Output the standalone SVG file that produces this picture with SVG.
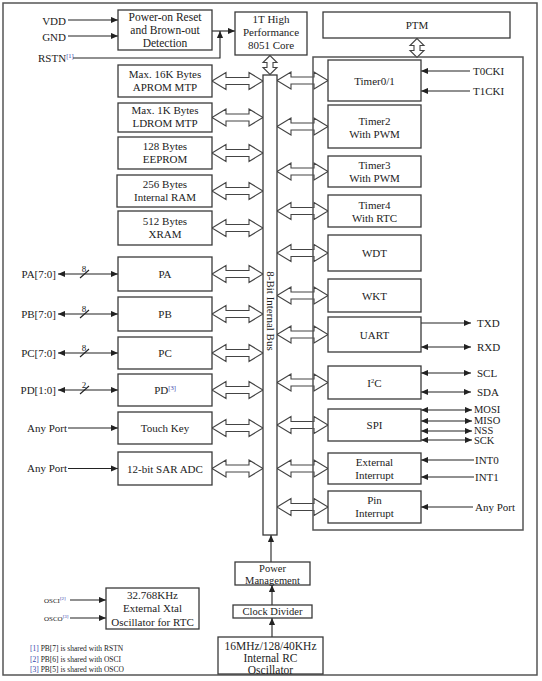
<svg xmlns="http://www.w3.org/2000/svg" width="542" height="681" viewBox="0 0 542 681">
<style>
.box{fill:#fff;stroke:#3a3a3a;stroke-width:1.3}
.frame{fill:none;stroke:#555;stroke-width:1.5}
.t{font-family:"Liberation Serif","Times New Roman",serif;font-size:11px;fill:#222;text-anchor:middle}
.s{text-anchor:start}
.e{text-anchor:end}
.sup{fill:#3344aa;font-size:6.5px}
.fn{font-size:7.5px}
.ln{stroke:#222;stroke-width:1.1;fill:none}
.dbl{fill:#fff;stroke:#444;stroke-width:1.1}
</style>
<defs>
<marker id="ah" viewBox="0 0 8 8" refX="8" refY="4" markerWidth="7" markerHeight="7" markerUnits="userSpaceOnUse" orient="auto-start-reverse"><path d="M0,0.5 L8,4 L0,7.5 Z" fill="#222"/></marker>
<path id="hdbl" class="dbl" d="M0,0 L14,-8.5 L14,-3.5 L37,-3.5 L37,-8.5 L51,0 L37,8.5 L37,3.5 L14,3.5 L14,8.5 Z"/>
<path id="vdbl" class="dbl" d="M0,0 L-7,7 L-3,7 L-3,12 L-7,12 L0,19 L7,12 L3,12 L3,7 L7,7 Z"/>
</defs>
<rect x="0" y="0" width="542" height="681" fill="#fff"/>
<rect class="frame" x="3" y="3" width="534" height="672"/>

<g id="connectors">
<!-- inputs to reset -->
<line class="ln" x1="68" y1="20" x2="118" y2="20" marker-end="url(#ah)"/>
<line class="ln" x1="68" y1="36" x2="118" y2="36" marker-end="url(#ah)"/>
<line class="ln" x1="212" y1="31" x2="235" y2="31" marker-end="url(#ah)"/>
<polyline class="ln" points="73,58 220,58 220,31" marker-end="url(#ah)"/>
<!-- left double arrows -->
<use href="#hdbl" x="212" y="81"/>
<use href="#hdbl" x="212" y="117.5"/>
<use href="#hdbl" x="212" y="153"/>
<use href="#hdbl" x="212" y="191"/>
<use href="#hdbl" x="212" y="228"/>
<use href="#hdbl" x="212" y="274"/>
<use href="#hdbl" x="212" y="314"/>
<use href="#hdbl" x="212" y="353"/>
<use href="#hdbl" x="212" y="390"/>
<use href="#hdbl" x="212" y="428"/>
<use href="#hdbl" x="212" y="468.5"/>
<!-- right double arrows -->
<use href="#hdbl" x="277" y="80.5"/>
<use href="#hdbl" x="277" y="126.5"/>
<use href="#hdbl" x="277" y="171.5"/>
<use href="#hdbl" x="277" y="211"/>
<use href="#hdbl" x="277" y="253"/>
<use href="#hdbl" x="277" y="295.5"/>
<use href="#hdbl" x="277" y="334.5"/>
<use href="#hdbl" x="277" y="382.5"/>
<use href="#hdbl" x="277" y="425"/>
<use href="#hdbl" x="277" y="468.5"/>
<use href="#hdbl" x="277" y="507"/>
<!-- vertical double arrows -->
<use href="#vdbl" x="270" y="55.5"/>
<use href="#vdbl" x="417" y="38.5"/>
<!-- port lines -->
<line class="ln" x1="58" y1="274" x2="118" y2="274" marker-start="url(#ah)" marker-end="url(#ah)"/>
<line class="ln" x1="58" y1="314" x2="118" y2="314" marker-start="url(#ah)" marker-end="url(#ah)"/>
<line class="ln" x1="58" y1="353" x2="118" y2="353" marker-start="url(#ah)" marker-end="url(#ah)"/>
<line class="ln" x1="58" y1="390" x2="118" y2="390" marker-start="url(#ah)" marker-end="url(#ah)"/>
<line class="ln" x1="80" y1="278" x2="89" y2="270"/>
<line class="ln" x1="80" y1="318" x2="89" y2="310"/>
<line class="ln" x1="80" y1="357" x2="89" y2="349"/>
<line class="ln" x1="80" y1="394" x2="89" y2="386"/>
<line class="ln" x1="68" y1="428" x2="118" y2="428" marker-end="url(#ah)"/>
<line class="ln" x1="68" y1="468.5" x2="118" y2="468.5" marker-end="url(#ah)"/>
<!-- right side signals -->
<line class="ln" x1="470" y1="71" x2="421" y2="71" marker-end="url(#ah)"/>
<line class="ln" x1="470" y1="91" x2="421" y2="91" marker-end="url(#ah)"/>
<line class="ln" x1="421" y1="323" x2="471" y2="323" marker-end="url(#ah)"/>
<line class="ln" x1="421" y1="347" x2="471" y2="347" marker-start="url(#ah)" marker-end="url(#ah)"/>
<line class="ln" x1="421" y1="373" x2="471" y2="373" marker-start="url(#ah)" marker-end="url(#ah)"/>
<line class="ln" x1="421" y1="392" x2="471" y2="392" marker-start="url(#ah)" marker-end="url(#ah)"/>
<line class="ln" x1="421" y1="410" x2="472" y2="410" marker-start="url(#ah)" marker-end="url(#ah)"/>
<line class="ln" x1="421" y1="421" x2="472" y2="421" marker-start="url(#ah)" marker-end="url(#ah)"/>
<line class="ln" x1="421" y1="431" x2="472" y2="431" marker-start="url(#ah)" marker-end="url(#ah)"/>
<line class="ln" x1="421" y1="440" x2="472" y2="440" marker-start="url(#ah)" marker-end="url(#ah)"/>
<line class="ln" x1="474" y1="460" x2="421" y2="460" marker-end="url(#ah)"/>
<line class="ln" x1="474" y1="477" x2="421" y2="477" marker-end="url(#ah)"/>
<line class="ln" x1="473" y1="507" x2="421" y2="507" marker-end="url(#ah)"/>
<!-- power chain -->
<line class="ln" x1="271" y1="562" x2="271" y2="535" marker-end="url(#ah)"/>
<line class="ln" x1="272" y1="605" x2="272" y2="585" marker-end="url(#ah)"/>
<line class="ln" x1="272" y1="637" x2="272" y2="618" marker-end="url(#ah)"/>
<line class="ln" x1="70" y1="600" x2="106" y2="600" marker-end="url(#ah)"/>
<line class="ln" x1="70" y1="618" x2="106" y2="618" marker-end="url(#ah)"/>
</g>

<rect id="periph-frame" class="frame" x="313" y="57" width="210" height="473"/>

<g id="reset"><rect class="box" x="118" y="10" width="94" height="40"/>
<text class="t" x="165" y="20.5" style="font-size:11.5px">Power-on Reset</text><text class="t" x="165" y="33.5" style="font-size:11.5px">and Brown-out</text><text class="t" x="165" y="46.5" style="font-size:11.5px">Detection</text></g>
<g id="core"><rect class="box" x="235" y="12" width="72" height="43"/>
<text class="t" x="271" y="22.5">1T High</text><text class="t" x="271" y="35.5">Performance</text><text class="t" x="271" y="48.5">8051 Core</text></g>
<g id="ptm"><rect class="box" x="323" y="12" width="187" height="26"/><text class="t" x="417" y="29">PTM</text></g>

<g id="aprom"><rect class="box" x="118" y="65" width="94" height="32"/><text class="t" x="165" y="78">Max. 16K Bytes</text><text class="t" x="165" y="91">APROM MTP</text></g>
<g id="ldrom"><rect class="box" x="118" y="103" width="94" height="29"/><text class="t" x="165" y="114">Max. 1K Bytes</text><text class="t" x="165" y="127">LDROM MTP</text></g>
<g id="eeprom"><rect class="box" x="118" y="137" width="94" height="32"/><text class="t" x="165" y="150">128 Bytes</text><text class="t" x="165" y="163">EEPROM</text></g>
<g id="iram"><rect class="box" x="117" y="175" width="95" height="32"/><text class="t" x="165" y="188">256 Bytes</text><text class="t" x="165" y="201">Internal RAM</text></g>
<g id="xram"><rect class="box" x="118" y="211" width="94" height="34"/><text class="t" x="165" y="225">512 Bytes</text><text class="t" x="165" y="238">XRAM</text></g>
<g id="pa"><rect class="box" x="118" y="257" width="94" height="34"/><text class="t" x="165" y="278">PA</text></g>
<g id="pb"><rect class="box" x="118" y="297" width="94" height="34"/><text class="t" x="165" y="318">PB</text></g>
<g id="pc"><rect class="box" x="118" y="337" width="94" height="32"/><text class="t" x="165" y="357">PC</text></g>
<g id="pd"><rect class="box" x="118" y="374" width="94" height="32"/><text class="t" x="165" y="394">PD<tspan class="sup" dy="-4">[3]</tspan></text></g>
<g id="touch"><rect class="box" x="118" y="412" width="94" height="32"/><text class="t" x="165" y="432">Touch Key</text></g>
<g id="adc"><rect class="box" x="118" y="452" width="94" height="33"/><text class="t" x="165" y="472.5">12-bit SAR ADC</text></g>

<g id="bus"><rect class="box" x="263" y="75" width="14" height="460"/>
<text class="t" transform="translate(266.5,311) rotate(90)">8-Bit Internal Bus</text></g>

<g id="timer01"><rect class="box" x="328" y="60" width="93" height="41"/><text class="t" x="374.5" y="84.5">Timer0/1</text></g>
<g id="timer2"><rect class="box" x="328" y="105" width="93" height="43"/><text class="t" x="374.5" y="124.5">Timer2</text><text class="t" x="374.5" y="137.5">With PWM</text></g>
<g id="timer3"><rect class="box" x="328" y="156" width="93" height="31"/><text class="t" x="374.5" y="169">Timer3</text><text class="t" x="374.5" y="182">With PWM</text></g>
<g id="timer4"><rect class="box" x="328" y="195" width="93" height="32"/><text class="t" x="374.5" y="208.5">Timer4</text><text class="t" x="374.5" y="221.5">With RTC</text></g>
<g id="wdt"><rect class="box" x="328" y="235" width="93" height="36"/><text class="t" x="374.5" y="257">WDT</text></g>
<g id="wkt"><rect class="box" x="328" y="279" width="93" height="33"/><text class="t" x="374.5" y="299.5">WKT</text></g>
<g id="uart"><rect class="box" x="328" y="317" width="93" height="35"/><text class="t" x="374.5" y="338.5">UART</text></g>
<g id="i2c"><rect class="box" x="328" y="366" width="93" height="33"/><text class="t" x="374.5" y="387">I<tspan style="font-size:6.5px" dy="-4">2</tspan><tspan dy="4">C</tspan></text></g>
<g id="spi"><rect class="box" x="328" y="409" width="93" height="32"/><text class="t" x="374.5" y="429">SPI</text></g>
<g id="extint"><rect class="box" x="328" y="453" width="93" height="31"/><text class="t" x="374.5" y="465.5">External</text><text class="t" x="374.5" y="478.5">Interrupt</text></g>
<g id="pinint"><rect class="box" x="328" y="491" width="93" height="32"/><text class="t" x="374.5" y="504">Pin</text><text class="t" x="374.5" y="517">Interrupt</text></g>

<g id="pmu"><rect class="box" x="235" y="562" width="75" height="23"/><text class="t" x="272.5" y="571.5" style="font-size:10.5px">Power</text><text class="t" x="272.5" y="583.5" style="font-size:10.5px">Management</text></g>
<g id="clkdiv"><rect class="box" x="233" y="605" width="79" height="13"/><text class="t" x="272.5" y="615" style="font-size:10.5px">Clock Divider</text></g>
<g id="hirc"><rect class="box" x="218" y="637" width="105" height="37"/><text class="t" x="270.5" y="649.5" style="font-size:11.5px">16MHz/128/40KHz</text><text class="t" x="270.5" y="661.5" style="font-size:11.5px">Internal RC</text><text class="t" x="270.5" y="673.5" style="font-size:11.5px">Oscillator</text></g>
<g id="xtal"><rect class="box" x="106" y="588" width="93" height="41"/><text class="t" x="152.5" y="599">32.768KHz</text><text class="t" x="152.5" y="612">External Xtal</text><text class="t" x="152.5" y="625.5">Oscillator for RTC</text></g>

<g id="labels">
<text class="t e" x="66" y="24.5">VDD</text>
<text class="t e" x="66" y="40.5">GND</text>
<text class="t s" x="38" y="62">RSTN<tspan class="sup" dy="-4">[1]</tspan></text>
<text class="t e" x="56" y="277.5">PA[7:0]</text>
<text class="t e" x="56" y="317.5">PB[7:0]</text>
<text class="t e" x="56" y="356.5">PC[7:0]</text>
<text class="t e" x="56" y="393.5">PD[1:0]</text>
<text class="t" x="84" y="272" style="font-size:9px">8</text>
<text class="t" x="84" y="312" style="font-size:9px">8</text>
<text class="t" x="84" y="351" style="font-size:9px">8</text>
<text class="t" x="84" y="388" style="font-size:9px">2</text>
<text class="t e" x="67" y="431.5">Any Port</text>
<text class="t e" x="67" y="472">Any Port</text>
<text class="t s" x="473" y="74.5">T0CKI</text>
<text class="t s" x="473" y="94.5">T1CKI</text>
<text class="t s" x="477" y="326.5">TXD</text>
<text class="t s" x="477" y="350.5">RXD</text>
<text class="t s" x="477" y="376.5">SCL</text>
<text class="t s" x="477" y="395.5">SDA</text>
<text class="t s" x="474" y="413" style="font-size:10.5px">MOSI</text>
<text class="t s" x="474" y="424" style="font-size:10.5px">MISO</text>
<text class="t s" x="474" y="434" style="font-size:10.5px">NSS</text>
<text class="t s" x="474" y="443.5" style="font-size:10.5px">SCK</text>
<text class="t s" x="475" y="463.5">INT0</text>
<text class="t s" x="475" y="480.5">INT1</text>
<text class="t s" x="475" y="510.5">Any Port</text>
<text class="t s" x="44" y="602.5" style="font-size:7px">OSCI<tspan class="sup" dy="-3" style="font-size:5px">[2]</tspan></text>
<text class="t s" x="44" y="620.5" style="font-size:7px">OSCO<tspan class="sup" dy="-3" style="font-size:5px">[3]</tspan></text>
<text class="t s fn" x="30" y="650.5"><tspan class="sup" style="font-size:7.5px">[1]</tspan> PB[7] is shared with RSTN</text>
<text class="t s fn" x="30" y="661.5"><tspan class="sup" style="font-size:7.5px">[2]</tspan> PB[6] is shared with OSCI</text>
<text class="t s fn" x="30" y="672"><tspan class="sup" style="font-size:7.5px">[3]</tspan> PB[5] is shared with OSCO</text>
</g>
</svg>
